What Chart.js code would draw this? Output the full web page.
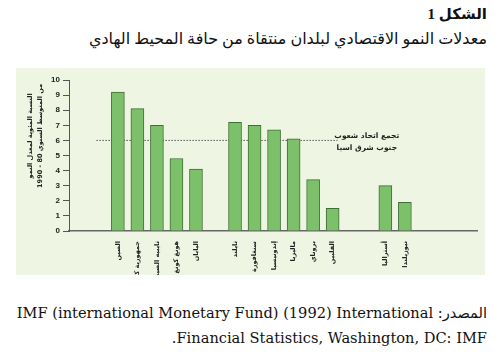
<!DOCTYPE html>
<html lang="ar">
<head>
<meta charset="utf-8">
<script src="https://cdn.jsdelivr.net/npm/chart.js@4.4.1/dist/chart.umd.min.js"></script>
<style>
  html, body { margin: 0; padding: 0; background: #ffffff; }
  body { width: 502px; height: 361px; position: relative; overflow: hidden; }
  .t1 { position: absolute; right: 15px; top: 5px; direction: rtl; font: bold 15px "Liberation Serif", "DejaVu Sans", serif; color: #111; white-space: nowrap; }
  .t2 { position: absolute; right: 15px; top: 29px; direction: rtl; font: 16px "Liberation Serif", "DejaVu Sans", serif; color: #111; white-space: nowrap; }
  .panel { position: absolute; left: 16px; top: 68px; width: 469px; height: 207px; background: #eef5e2; }
  canvas { position: absolute; left: 0; top: 0; }
  .src { position: absolute; right: 15px; top: 300px; direction: rtl; text-align: right; font: 14.6px "DejaVu Serif", "DejaVu Sans", serif; color: #111; line-height: 25px; white-space: nowrap; }
</style>
</head>
<body>
<div class="t1">الشكل 1</div>
<div class="t2">معدلات النمو الاقتصادي لبلدان منتقاة من حافة المحيط الهادي</div>
<div class="panel"><canvas id="c" width="469" height="207"></canvas></div>
<div class="src">المصدر: IMF (international Monetary Fund) (1992) International<br>Financial Statistics, Washington, DC: IMF.</div>
<script>
// Data
const countries = ["الصين", "جمهورية كوريا", "تايبيه الصينية", "هونغ كونغ", "اليابان",
                   "تايلند", "سنغافورة", "إندونيسيا", "ماليزيا", "بروناي", "الفلبين",
                   "أستراليا", "نيوزيلندا"];
const slots = [0, 1, 2, 3, 4, 6, 7, 8, 9, 10, 11, 13.7, 14.7];
const growth = [9.2, 8.1, 7.0, 4.8, 4.1, 7.2, 7.0, 6.7, 6.1, 3.4, 1.5, 3.0, 1.9];
const aseanAverage = 6.0;
const aseanSpan = [-1.1, 11.25];
const aseanLabel = ["تجمع اتحاد شعوب", "جنوب شرق اسيا"];
const yTitle = ["النسبة المئوية لمعدل النمو", "من المتوسط السنوي 80 - 1990"];
const yTicks = [0, 1, 2, 3, 4, 5, 6, 7, 8, 9, 10];

const annotationPlugin = {
  id: 'texts',
  afterDraw(chart) {
    const ctx = chart.ctx;
    const xs = chart.scales.x, ys = chart.scales.y;
    ctx.save();
    ctx.fillStyle = '#222';
    ctx.font = 'bold 7.5px "DejaVu Sans", sans-serif';
    ctx.textAlign = 'center';
    ctx.textBaseline = 'middle';
    const cx = xs.getPixelForValue(12.75);
    ctx.fillText(aseanLabel[0], cx, ys.getPixelForValue(6.3));
    ctx.fillText(aseanLabel[1], cx, ys.getPixelForValue(5.5));
    // y-axis title
    const midY = ys.getPixelForValue(6.3);
    ctx.translate(14, midY);
    ctx.rotate(-Math.PI / 2);
    ctx.font = 'bold 6.5px "DejaVu Sans", sans-serif';
    ctx.fillText(yTitle[0], 0, 0);
    ctx.fillText(yTitle[1], 0, 10);
    ctx.restore();
  }
};

new Chart(document.getElementById('c'), {
  data: {
    datasets: [
      {
        type: 'bar',
        data: slots.map((s, i) => ({ x: s, y: growth[i] })),
        backgroundColor: '#7cc16a',
        borderColor: '#3f6e36',
        borderWidth: 1,
        borderSkipped: 'bottom',
        barThickness: 13,
        order: 0
      },
      {
        type: 'line',
        data: aseanSpan.map(x => ({ x: x, y: aseanAverage })),
        borderColor: '#555',
        borderWidth: 1,
        borderDash: [1.5, 1.5],
        pointRadius: 0,
        fill: false,
        order: 1
      }
    ]
  },
  options: {
    responsive: false,
    animation: false,
    devicePixelRatio: 1,
    layout: { padding: { top: 12, right: 8, left: 0, bottom: 0 } },
    plugins: { legend: { display: false }, tooltip: { enabled: false } },
    scales: {
      x: {
        type: 'linear',
        min: -1.7,
        max: 17.59,
        afterBuildTicks(scale) { scale.ticks = slots.map(v => ({ value: v })); },
        afterFit(scale) { scale.height = 44; },
        grid: { display: false },
        border: { display: true, color: '#666', width: 1.5 },
        ticks: {
          autoSkip: false,
          minRotation: 90,
          maxRotation: 90,
          padding: 2,
          color: '#222',
          font: { size: 6.5, weight: 'bold', family: '"DejaVu Sans", sans-serif' },
          callback: (v, i) => countries[i]
        }
      },
      y: {
        min: 0,
        max: 10,
        afterBuildTicks(scale) { scale.ticks = yTicks.map(v => ({ value: v })); },
        afterFit(scale) { scale.width = 53; },
        grid: { display: true, drawOnChartArea: false, drawTicks: true, tickLength: 6, color: '#555', lineWidth: 1 },
        border: { display: true, color: '#555', width: 1, dash: [1, 2] },
        ticks: {
          padding: 3,
          color: '#222',
          font: { size: 8, weight: 'bold', family: '"Liberation Sans", sans-serif' }
        }
      }
    }
  },
  plugins: [annotationPlugin]
});
</script>
</body>
</html>
